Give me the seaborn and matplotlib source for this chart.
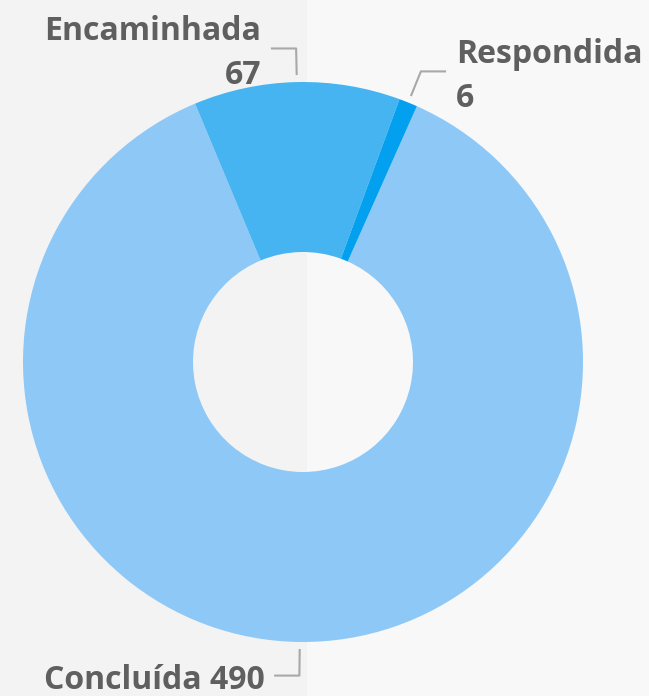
import numpy as np
import matplotlib
matplotlib.use("Agg")
import matplotlib.pyplot as plt
import seaborn as sns

# status counts
status = ["Concluída", "Encaminhada", "Respondida"]
counts = [490, 67, 6]
colors = ["#8DC8F6", "#47B4F2", "#02A0EE"]
# label layout: two-line or single-line
label_lines = {"Concluída": 1, "Encaminhada": 2, "Respondida": 2}

sns.set_theme(style="white")
plt.rcParams["font.family"] = ["Open Sans", "DejaVu Sans"]

W, H = 649, 696
cx, cy, R = 303, 362, 280  # pixel centre and outer radius

fig = plt.figure(figsize=(W / 100, H / 100), dpi=100)
fig.patch.set_facecolor("#f3f3f4")
fig.add_artist(plt.Rectangle((307 / W, 0), 1 - 307 / W, 1, transform=fig.transFigure,
                             color="#f8f8f8", zorder=0))
ax = fig.add_axes([0, 0, 1, 1])
ax.set_facecolor("none")

wedges, _ = ax.pie(counts, colors=colors, startangle=66, counterclock=False,
                   radius=1, wedgeprops=dict(width=1 - 110 / 280, linewidth=0))

ax.set_xlim(-cx / R, (W - cx) / R)
ax.set_ylim(-(H - cy) / R, cy / R)
ax.set_aspect("equal")
ax.axis("off")

text_color = "#5F5F5F"
line_color = "#A8A8A8"
for w, name, n in zip(wedges, status, counts):
    mid = np.deg2rad((w.theta1 + w.theta2) / 2)
    c, s = np.cos(mid), np.sin(mid)
    p0 = (1.025 * c, 1.025 * s)
    p1 = (1.12 * c, 1.12 * s)
    side = 1 if c > 0 else -1
    p2 = (p1[0] + side * 0.09, p1[1])
    ax.plot([p0[0], p1[0], p2[0]], [p0[1], p1[1], p2[1]], color=line_color,
            lw=1.5, solid_capstyle="butt", clip_on=False)
    if label_lines[name] == 2:
        txt = f"{name}\n{n}"
    else:
        txt = f"{name} {n}"
    ax.text(p2[0] + side * 0.035, p2[1] - 0.018, txt, ha="left" if side > 0 else "right",
            va="center", fontsize=23, fontweight="bold", color=text_color,
            linespacing=1.45, multialignment="left" if side > 0 else "right")

fig.savefig("out.png", dpi=100, facecolor=fig.get_facecolor())
